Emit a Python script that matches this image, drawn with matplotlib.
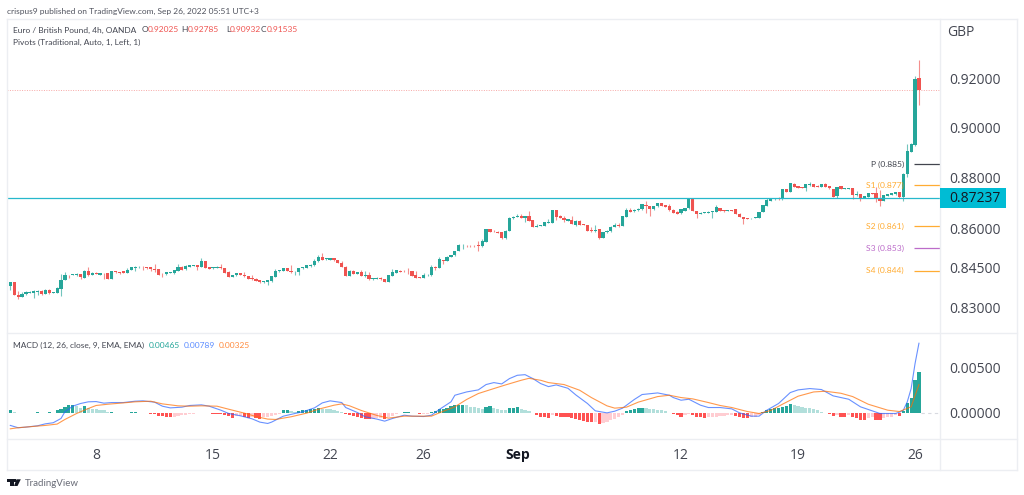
import matplotlib
matplotlib.use('Agg')
import matplotlib.pyplot as plt
import numpy as np
from matplotlib.lines import Line2D
from matplotlib.patches import Polygon, Rectangle
from matplotlib.transforms import ScaledTranslation

W, H = 1024, 495

# candles, prices in 1/10000
opens = [8384,8398,8352,8343,8356,8358,8360,8364,8366,8356,
8370,8358,8360,8375,8408,8427,8426,8427,8430,8416,
8443,8428,8435,8428,8433,8432,8412,8442,8438,8440,
8433,8446,8453,8455,8457,8457,8455,8450,8448,8431,
8429,8434,8432,8443,8457,8448,8458,8462,8463,8456,
8480,8455,8451,8452,8458,8453,8437,8418,8425,8432,
8428,8422,8416,8413,8406,8398,8400,8402,8418,8440,
8443,8453,8443,8436,8436,8451,8452,8462,8463,8478,
8495,8486,8484,8490,8483,8470,8458,8423,8443,8431,
8436,8423,8425,8410,8412,8416,8412,8399,8423,8435,
8443,8443,8443,8440,8425,8418,8416,8425,8425,8458,
8454,8484,8479,8496,8501,8517,8539,8538,8538,8538,
8541,8535,8553,8600,8592,8592,8589,8568,8595,8643,
8648,8652,8646,8651,8635,8611,8613,8615,8625,8626,
8674,8651,8645,8634,8636,8619,8634,8622,8618,8598,
8596,8601,8567,8589,8593,8611,8618,8614,8650,8674,
8670,8674,8678,8695,8691,8678,8690,8701,8693,8691,
8676,8669,8662,8672,8682,8717,8671,8661,8664,8665,
8666,8668,8684,8675,8672,8675,8678,8661,8649,8643,
8643,8645,8645,8667,8691,8711,8717,8724,8717,8757,
8747,8779,8769,8766,8761,8772,8778,8771,8766,8779,
8770,8757,8730,8768,8757,8758,8760,8733,8737,8723,
8727,8742,8740,8723,8710,8732,8735,8736,8746,8725,
8815,8905,8930,9202.5]
closes = [8398,8352,8342,8356,8361,8363,8365,8365,8356,8370,
8357,8361,8376,8408,8427,8425,8430,8431,8417,8443,
8428,8435,8430,8433,8432,8412,8442,8436,8435,8433,
8447,8455,8457,8457,8455,8451,8449,8446,8427,8430,
8436,8436,8446,8457,8447,8461,8463,8465,8457,8480,
8452,8450,8455,8458,8451,8435,8418,8427,8433,8428,
8421,8412,8410,8405,8398,8402,8406,8421,8442,8446,
8453,8443,8436,8438,8451,8455,8463,8465,8480,8495,
8485,8490,8490,8482,8473,8457,8423,8443,8431,8437,
8423,8427,8410,8415,8416,8410,8399,8425,8437,8444,
8439,8440,8442,8423,8415,8415,8427,8428,8458,8453,
8486,8479,8496,8503,8518,8539,8542,8535,8535,8535,
8535,8554,8600,8591,8590,8588,8567,8596,8646,8648,
8652,8646,8651,8632,8611,8615,8618,8627,8627,8674,
8648,8644,8635,8639,8622,8634,8619,8617,8596,8596,
8598,8566,8589,8596,8611,8618,8614,8651,8674,8669,
8677,8681,8697,8690,8678,8691,8701,8691,8687,8674,
8663,8661,8678,8684,8719,8671,8658,8664,8666,8669,
8671,8688,8671,8670,8675,8672,8661,8649,8640,8641,
8645,8649,8667,8694,8714,8720,8722,8717,8756,8747,
8782,8766,8762,8761,8776,8779,8766,8766,8778,8766,
8760,8727,8766,8757,8760,8762,8733,8739,8720,8730,
8742,8739,8718,8709,8733,8737,8740,8745,8725,8818,
8907,8934,9202,9153.5]
highs = [8399,8399,8365,8363,8365,8365,8368,8368,8371,8373,
8373,8363,8381,8430,8438,8428,8431,8435,8431,8446,
8455,8437,8436,8435,8435,8433,8443,8443,8439,8441,
8452,8456,8461,8461,8462,8458,8458,8468,8449,8432,
8437,8437,8447,8468,8462,8466,8464,8466,8464,8490,
8481,8456,8456,8459,8468,8454,8443,8428,8434,8433,
8437,8423,8428,8414,8407,8403,8407,8422,8448,8447,
8454,8454,8465,8443,8452,8456,8464,8468,8486,8503,
8508,8491,8491,8491,8484,8481,8459,8444,8444,8438,
8446,8441,8439,8416,8417,8417,8413,8426,8450,8445,
8444,8444,8454,8441,8441,8419,8433,8429,8465,8459,
8496,8485,8497,8504,8519,8546,8546,8539,8539,8539,
8556,8563,8601,8601,8597,8593,8590,8597,8648,8653,
8660,8661,8653,8670,8636,8622,8619,8628,8642,8675,
8677,8655,8651,8640,8653,8635,8635,8623,8619,8609,
8618,8602,8590,8597,8612,8625,8625,8652,8685,8685,
8678,8682,8698,8712,8692,8692,8702,8702,8694,8697,
8681,8670,8679,8685,8723,8720,8672,8666,8667,8670,
8672,8695,8685,8676,8676,8676,8679,8662,8650,8644,
8646,8650,8668,8695,8723,8721,8723,8725,8757,8758,
8783,8780,8770,8767,8777,8786,8779,8772,8779,8780,
8771,8758,8767,8769,8761,8763,8761,8749,8738,8731,
8743,8743,8766,8753,8734,8738,8741,8746,8747,8819,
8935,8938,9212,9278.5]
lows = [8371,8351,8337,8342,8350,8357,8340,8350,8352,8355,
8356,8357,8359,8346,8407,8415,8425,8423,8411,8415,
8423,8427,8429,8427,8411,8411,8411,8435,8431,8432,
8432,8445,8440,8454,8447,8450,8443,8436,8426,8418,
8426,8433,8431,8442,8446,8447,8457,8461,8446,8455,
8451,8449,8450,8451,8450,8434,8417,8417,8424,8427,
8420,8411,8406,8404,8397,8397,8387,8401,8417,8439,
8442,8442,8435,8425,8426,8450,8451,8455,8462,8477,
8484,8485,8483,8481,8472,8456,8422,8422,8430,8430,
8422,8419,8409,8409,8411,8409,8398,8398,8422,8434,
8438,8439,8431,8422,8414,8414,8415,8424,8424,8445,
8453,8467,8478,8495,8500,8516,8526,8534,8534,8533,
8517,8534,8552,8590,8589,8587,8565,8565,8594,8642,
8647,8645,8629,8631,8610,8609,8612,8614,8624,8625,
8635,8643,8628,8633,8621,8615,8618,8616,8595,8589,
8589,8562,8566,8588,8592,8610,8609,8613,8649,8668,
8669,8673,8677,8664,8651,8677,8689,8690,8686,8673,
8662,8660,8661,8671,8681,8670,8645,8659,8662,8664,
8645,8667,8670,8669,8671,8671,8660,8648,8623,8640,
8642,8644,8644,8666,8690,8710,8716,8716,8716,8746,
8746,8765,8761,8760,8749,8771,8765,8765,8765,8765,
8759,8725,8724,8756,8756,8757,8720,8732,8710,8722,
8726,8738,8708,8692,8709,8731,8734,8735,8724,8710,
8805,8904,8929,9093]

# macd histogram in 1e-5
hist = [37,12,4,3,4,6,8,15,8,4,12,8,37,48,75,90,97,82,67,82,
67,52,45,42,37,19,22,8,6,4,11,12,15,8,7,4,-2,-11,-30,-33,
-37,-40,-37,-25,-20,-15,-8,-4,2,1,8,4,-4,-8,-10,-12,-30,-52,-30,-25,
-34,-48,-37,-56,-57,-45,-41,-30,-19,-11,34,36,26,22,30,37,41,45,52,60,
48,47,46,41,30,12,-10,-19,-30,-37,-50,-60,-67,-60,-55,-50,-67,-40,-30,-10,
10,14,15,8,3,-7,-4,-2,15,30,45,56,67,82,90,93,97,90,78,71,
63,52,75,82,63,56,37,35,60,67,71,56,41,26,4,-19,-34,-45,-56,-19,
-30,-37,-41,-45,-52,-67,-75,-86,-97,-100,-93,-116,-104,-93,-75,-60,-45,-19,26,37,
48,60,67,60,52,48,41,37,26,4,-4,-19,-34,-15,-11,-12,-34,-45,-52,-45,
-41,-37,-30,-26,-22,-19,-30,-45,-52,-56,-45,-37,-19,19,34,48,60,63,71,82,
104,93,82,71,67,60,45,34,22,11,-8,-30,-22,-37,-38,-20,-45,-56,-75,-78,
-50,-45,-70,-78,-50,-45,-35,-20,-30,26,119,179,380,465]

macd_idx = [0,2,4,7,9,11,13,14,16,18,20,22,24,26,29,32,34,37,39,41,44,46,49,51,54,56,59,62,64,66,67,70,73,75,78,80,82,
85,86,89,91,94,96,98,101,103,106,108,110,113,114,117,120,122,124,126,128,130,132,134,136,138,140,143,145,148,150,153,155,157,160,162,166,169,170,172,
174,177,179,182,185,187,190,192,194,197,200,202,205,208,211,215,218,220,223,227,228,229,230,231,232,233]
macd_val = [-134,-160,-153,-138,-116,-104,-56,19,82,112,131,134,116,123,123,138,142,127,82,63,71,90,97,82,37,0,-26,-60,-97,-112,-97,-30,0,19,63,119,142,
123,67,11,-37,-63,-86,-56,-19,-30,-34,-19,45,131,205,242,265,325,347,332,392,429,436,392,336,302,321,283,209,112,30,7,26,60,157,213,231,205,179,149,
160,93,67,67,52,7,-30,-30,37,112,235,265,280,269,198,160,75,45,0,0,15,37,130,280,560,789]
signal_idx = [0,2,6,9,12,14,17,20,22,25,29,32,36,39,43,46,49,53,56,60,63,66,68,72,76,79,83,85,
87,90,94,97,101,104,108,110,114,117,120,124,127,131,133,136,138,142,146,149,153,155,158,161,166,169,172,
175,179,182,185,189,192,195,198,202,206,209,213,216,220,225,228,231,233]
signal_val = [-172,-160,-145,-134,-119,-67,0,56,90,104,119,131,138,108,86,82,86,82,48,4,-34,-63,-67,-37,4,48,93,108,
86,34,-22,-52,-30,-30,-30,7,75,157,224,280,321,373,395,373,347,325,261,179,86,60,71,127,190,205,179,
164,123,90,67,22,0,34,104,194,242,250,227,190,104,37,22,75,325]

xtick_idx = [22, 52, 82, 106, 130, 172, 202, 232]
xtick_labels = ['8', '15', '22', '26', 'Sep', '12', '19', '26']
price_ticks = [0.83, 0.845, 0.86, 0.88, 0.90, 0.92]
macd_ticks = [0.0, 0.005]
pivot_levels = [0.8856, 0.8772, 0.8612, 0.8527, 0.8442]
pivot_labels = ['P (0.885)', 'S1 (0.877)', 'S2 (0.861)', 'S3 (0.853)', 'S4 (0.844)']
support_line = 0.87237
last_close = 0.91535

UP = '#26a69a'
DOWN = '#ef5350'
GRID = '#eceef2'
TXT = '#434651'
FONT = 'Open Sans'
SMALL = 'Lato'
PIVOT_COLORS = ['#131722', '#ff9800', '#ff9800', '#ab47bc', '#ff9800']

plt.rcParams['font.family'] = FONT

o = np.array(opens) / 1e4
c = np.array(closes) / 1e4
h = np.array(highs) / 1e4
l = np.array(lows) / 1e4
hv = np.array(hist) / 1e5
xs = np.arange(len(o))


def rect(x0, y0, x1, y1):
    return [x0 / W, 1 - y1 / H, (x1 - x0) / W, (y1 - y0) / H]


fig = plt.figure(figsize=(W / 100, H / 100), dpi=100)
ax = fig.add_axes(rect(7, 19, 940, 333))
ax2 = fig.add_axes(rect(7, 333, 940, 439))
xlim = (-0.85, 238.4)

# price pane
ax.set_yscale('log')
ax.set_xlim(*xlim)
ax.set_ylim(0.8210, 0.9451)
col = np.where(c >= o, UP, DOWN)
ax.vlines(xs, l, h, colors=col, lw=0.8, alpha=0.65, zorder=2)
ax.bar(xs, np.maximum(np.abs(c - o), 0.00012), bottom=np.minimum(o, c), width=0.82, color=col, lw=0, zorder=3)
ax.axhline(last_close, color=DOWN, lw=0.7, ls=(0, (1, 1.5)), alpha=0.5, zorder=1)
ax.axhline(support_line, color='#26b8cc', lw=0.9, zorder=4)
for lev, lab, pc in zip(pivot_levels, pivot_labels, PIVOT_COLORS):
    ax.plot([231.7, xlim[1]], [lev, lev], color=pc, lw=0.9, alpha=0.8, zorder=2, solid_capstyle='butt')
    ax.text(229.2, lev, lab, color=pc, fontsize=6.1, family=SMALL, ha='right', va='center', alpha=0.8,
            zorder=5)
ax.set_xticks([])
ax.yaxis.tick_right()
ax.set_yticks(price_ticks)
ax.set_yticklabels(['%.5f' % t for t in price_ticks], fontsize=10, color=TXT, va='center_baseline')
ax.tick_params(axis='y', length=0, pad=7)
ax.minorticks_off()

# macd pane
ax2.set_xlim(*xlim)
ax2.set_ylim(-0.002865, 0.00904)
bar_col = []
for i, v in enumerate(hv):
    prev = hv[i - 1] if i else v
    if v >= 0:
        bar_col.append('#26a69a' if v >= prev else '#b2dfdb')
    else:
        bar_col.append('#ff5252' if v < prev else '#ffcdd2')
ax2.bar(xs, hv, width=0.82, color=bar_col, lw=0, zorder=2)
ax2.plot([xs[-1] + 0.6, xlim[1]], [0, 0], color='#d8dae0', lw=0.8, ls=(0, (3, 3)))
ax2.plot(macd_idx, np.array(macd_val) / 1e5, color='#2962ff', lw=0.8, alpha=0.7, zorder=3)
ax2.plot(signal_idx, np.array(signal_val) / 1e5, color='#ff6d00', lw=0.8, alpha=0.7, zorder=3)
ax2.yaxis.tick_right()
ax2.set_yticks(macd_ticks)
ax2.set_yticklabels(['%.5f' % t for t in macd_ticks], fontsize=10, color=TXT, va='center_baseline')
ax2.tick_params(axis='y', length=0, pad=7)
ax2.set_xticks(xtick_idx)
ax2.set_xticklabels(xtick_labels, fontsize=10, color=TXT)
ax2.tick_params(axis='x', length=0, pad=6.5)
ax2.get_xticklabels()[4].set_fontweight('bold')
ax2.get_xticklabels()[4].set_color('#131722')

# nudge the axis numbers up a pixel
nudge = ScaledTranslation(0, 1 / 100, fig.dpi_scale_trans)
for lab in ax.get_yticklabels() + ax2.get_yticklabels():
    lab.set_transform(lab.get_transform() + nudge)

for a in (ax, ax2):
    for s in a.spines.values():
        s.set_visible(False)


def hline(y, x0=7, x1=1017):
    fig.add_artist(Line2D([x0 / W, x1 / W], [1 - y / H, 1 - y / H], color=GRID, lw=1))


def ftext(x, y, s, color=TXT, size=6.05, **kw):
    kw.setdefault('family', SMALL)
    fig.text(x / W, 1 - y / H, s, color=color, fontsize=size, va='center', ha='left', **kw)


for y in (19, 333, 439, 470):
    hline(y)
for x in (7, 940, 1017):
    fig.add_artist(Line2D([x / W, x / W], [1 - 19 / H, 1 - 470 / H], color=GRID, lw=1))

# current price label
fig.add_artist(Rectangle((940 / W, 1 - 208 / H), 66 / W, 20 / H, transform=fig.transFigure,
                         facecolor='#00bcd4', edgecolor='none', zorder=5))
ftext(949.5, 198, '0.87237', color='#131722', size=10, zorder=6, family=FONT)
ftext(947, 32.5, 'GBP', size=10, family=FONT)

# header and legends
ftext(7, 11, 'crispus9 published on TradingView.com, Sep 26, 2022 05:51 UTC+3', color='#50535e')
ftext(13, 30, 'Euro / British Pound, 4h, OANDA')
for x, s in ((141.5, 'O'), (181.5, 'H'), (226, 'L'), (261, 'C')):
    ftext(x, 30, s)
for x, s in ((147.5, '0.92025'), (187.5, '0.92785'), (230, '0.90932'), (266.5, '0.91535')):
    ftext(x, 30, s, color=DOWN)
ftext(13, 42, 'Pivots (Traditional, Auto, 1, Left, 1)')
ftext(13, 345, 'MACD (12, 26, close, 9, EMA, EMA)')
ftext(149, 345, '0.00465', color=UP)
ftext(184, 345, '0.00789', color='#5b8cff')
ftext(219, 345, '0.00325', color='#ff8a3c')

# logo
ftext(24.5, 483, 'TradingView', size=7, color='#6a6d78')
logo = '#131722'
t = fig.transFigure
fig.add_artist(Rectangle((7.3 / W, 1 - 481.5 / H), 6.2 / W, 2.2 / H, transform=t, color=logo, lw=0))
fig.add_artist(Rectangle((10.2 / W, 1 - 486 / H), 3.3 / W, 6.5 / H, transform=t, color=logo, lw=0))
fig.add_artist(Polygon([(16.5 / W, 1 - 479.3 / H), (20.8 / W, 1 - 479.3 / H), (17.5 / W, 1 - 486 / H), (14 / W, 1 - 486 / H)],
                       transform=t, color=logo, lw=0))
fig.add_artist(Rectangle((14.2 / W, 1 - 481.6 / H), 1.8 / W, 2.2 / H, transform=t, color=logo, lw=0))

fig.savefig('out.png', dpi=100)
